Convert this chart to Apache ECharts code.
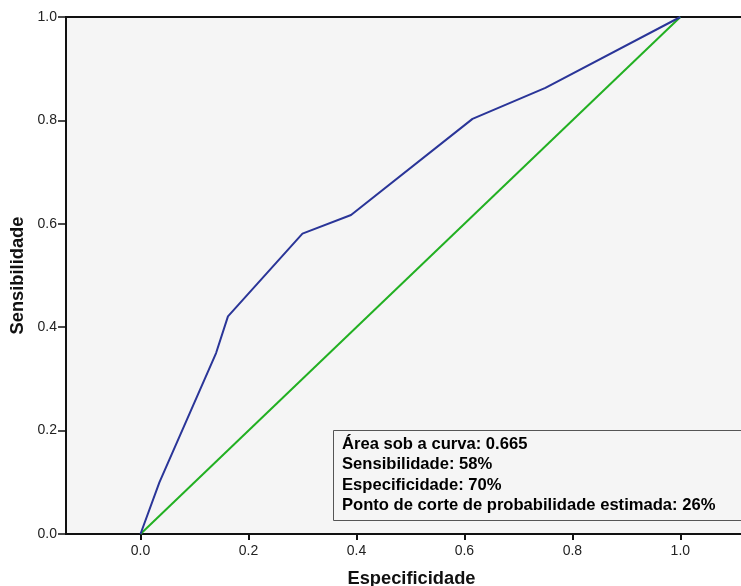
<!DOCTYPE html>
<html>
<head>
<meta charset="utf-8">
<script src="https://cdn.jsdelivr.net/npm/echarts@6/dist/echarts.min.js"></script>
<style>html,body{margin:0;padding:0;background:#fff;}#c{width:741px;height:586px;}</style>
</head>
<body>
<div id="c"></div>
<script>
var rocX = [0, 0.035, 0.14, 0.162, 0.30, 0.39, 0.615, 0.75, 1.0];
var rocY = [0, 0.10, 0.35, 0.421, 0.581, 0.617, 0.803, 0.863, 1.0];
var refX = [0, 1];
var refY = [0, 1];
var xTicks = [0, 0.2, 0.4, 0.6, 0.8, 1.0];
var boxLines = [
  'Área sob a curva: 0.665',
  'Sensibilidade: 58%',
  'Especificidade: 70%',
  'Ponto de corte de probabilidade estimada: 26%'
];

var chart = echarts.init(document.getElementById('c'), null, {renderer: 'canvas'});
var font = 'Liberation Sans, Arial, sans-serif';
chart.setOption({
  animation: false,
  backgroundColor: '#ffffff',
  grid: {left: 66, top: 17, width: 691, height: 517, show: true, containLabel: false,
         outerBoundsMode: 'none',
         backgroundColor: '#f5f5f5', borderColor: '#111', borderWidth: 2},
  xAxis: {
    type: 'value', min: -0.138, max: 1.142,
    name: 'Especificidade', nameLocation: 'middle', nameGap: 36,
    nameTextStyle: {fontFamily: font, fontWeight: 'bold', fontSize: 18.3, color: '#111'},
    axisLine: {onZero: false, lineStyle: {color: '#111', width: 2}},
    axisTick: {show: true, customValues: xTicks, length: 6, lineStyle: {color: '#111', width: 2}},
    axisLabel: {customValues: xTicks, fontFamily: font, fontSize: 14, color: '#222', margin: 10,
                formatter: function (v) { return v.toFixed(1); }},
    splitLine: {show: false}
  },
  yAxis: {
    type: 'value', min: 0, max: 1, interval: 0.2,
    name: 'Sensibilidade', nameLocation: 'middle', nameGap: 37, nameRotate: 90,
    nameTextStyle: {fontFamily: font, fontWeight: 'bold', fontSize: 18.3, color: '#111'},
    axisLine: {onZero: false, lineStyle: {color: '#111', width: 2}},
    axisTick: {show: true, length: 8, lineStyle: {color: '#111', width: 1.5}},
    axisLabel: {fontFamily: font, fontSize: 14, color: '#222', margin: 9,
                formatter: function (v) { return v.toFixed(1); }},
    splitLine: {show: false}
  },
  series: [
    {type: 'line', data: refX.map(function (x, i) { return [x, refY[i]]; }),
     showSymbol: false, lineStyle: {color: '#22b022', width: 2}, z: 2},
    {type: 'line', data: rocX.map(function (x, i) { return [x, rocY[i]]; }),
     showSymbol: false, lineStyle: {color: '#2a3598', width: 2}, z: 3}
  ],
  graphic: [
    {type: 'rect', left: 333, top: 430, z: 10,
     shape: {width: 412, height: 90},
     style: {fill: '#f5f5f5', stroke: '#555', lineWidth: 1}},
    {type: 'text', left: 342, top: 434, z: 11,
     style: {text: boxLines.join('\n'), font: 'bold 16.6px ' + font, fill: '#000', lineHeight: 20.5}}
  ]
});
</script>
</body>
</html>
